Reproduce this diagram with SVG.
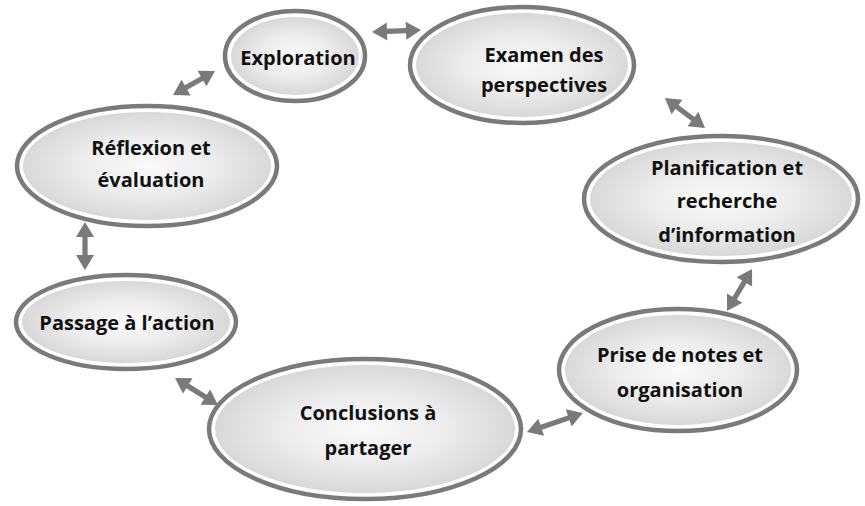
<svg xmlns="http://www.w3.org/2000/svg" width="865" height="506" viewBox="0 0 865 506">
<defs>
<radialGradient id="g" cx="50%" cy="50%" r="50%">
<stop offset="0" stop-color="#fafafa"/>
<stop offset="0.55" stop-color="#ececec"/>
<stop offset="1" stop-color="#d8d8d8"/>
</radialGradient>
</defs>
<style>
.o{fill:#ffffff;stroke:#7a7a7a;stroke-width:4.5}
.i{fill:url(#g);stroke:none}
.t{font-family:"Open Sans","DejaVu Sans",sans-serif;font-weight:bold;font-size:20px;fill:#111;text-anchor:middle}
.a{fill:#7a7a7a}
</style>
<rect width="865" height="506" fill="#ffffff"/>
<g id="connectors">
<path class="a" transform="translate(372,32) rotate(-2.3)" d="M0,0 L15,-9 L15,-2.6 L34,-2.6 L34,-9 L49,0 L34,9 L34,2.6 L15,2.6 L15,9 Z"/>
<path class="a" transform="translate(173,95) rotate(-29.7)" d="M0,0 L15,-9 L15,-2.6 L33.4,-2.6 L33.4,-9 L48.4,0 L33.4,9 L33.4,2.6 L15,2.6 L15,9 Z"/>
<path class="a" transform="translate(85,222) rotate(90)" d="M0,0 L15,-9 L15,-2.6 L33,-2.6 L33,-9 L48,0 L33,9 L33,2.6 L15,2.6 L15,9 Z"/>
<path class="a" transform="translate(175,378) rotate(32.1)" d="M0,0 L15,-9 L15,-2.6 L35.8,-2.6 L35.8,-9 L50.8,0 L35.8,9 L35.8,2.6 L15,2.6 L15,9 Z"/>
<path class="a" transform="translate(527,432) rotate(-18.7)" d="M0,0 L15,-9 L15,-2.6 L44,-2.6 L44,-9 L59,0 L44,9 L44,2.6 L15,2.6 L15,9 Z"/>
<path class="a" transform="translate(727,311) rotate(-59.2)" d="M0,0 L15,-9 L15,-2.6 L33.9,-2.6 L33.9,-9 L48.9,0 L33.9,9 L33.9,2.6 L15,2.6 L15,9 Z"/>
<path class="a" transform="translate(665,98) rotate(36.9)" d="M0,0 L15,-9 L15,-2.6 L35,-2.6 L35,-9 L50,0 L35,9 L35,2.6 L15,2.6 L15,9 Z"/>
</g>
<g id="exploration">
<ellipse class="o" cx="295" cy="56" rx="70" ry="45"/>
<ellipse class="i" cx="295" cy="56" rx="64" ry="39"/>
<text class="t" x="298" y="65">Exploration</text>
</g>
<g id="examen">
<ellipse class="o" cx="522" cy="65" rx="112" ry="58"/>
<ellipse class="i" cx="522" cy="65" rx="106" ry="52"/>
<text class="t" x="544" y="62">Examen des</text>
<text class="t" x="544" y="92">perspectives</text>
</g>
<g id="planification">
<ellipse class="o" cx="721" cy="199" rx="137" ry="63"/>
<ellipse class="i" cx="721" cy="199" rx="131" ry="57"/>
<text class="t" x="727" y="175">Planification et</text>
<text class="t" x="727" y="208">recherche</text>
<text class="t" x="727" y="242">d’information</text>
</g>
<g id="prise">
<ellipse class="o" cx="678" cy="370" rx="119" ry="61"/>
<ellipse class="i" cx="678" cy="370" rx="113" ry="55"/>
<text class="t" x="680" y="362">Prise de notes et</text>
<text class="t" x="680" y="397">organisation</text>
</g>
<g id="conclusions">
<ellipse class="o" cx="365" cy="429" rx="156" ry="70"/>
<ellipse class="i" cx="365" cy="429" rx="150" ry="64"/>
<text class="t" x="368" y="420">Conclusions à</text>
<text class="t" x="368" y="455">partager</text>
</g>
<g id="passage">
<ellipse class="o" cx="126" cy="322" rx="110" ry="47"/>
<ellipse class="i" cx="126" cy="322" rx="104" ry="41"/>
<text class="t" x="127" y="330">Passage à l’action</text>
</g>
<g id="reflexion">
<ellipse class="o" cx="147" cy="166" rx="130" ry="60"/>
<ellipse class="i" cx="147" cy="166" rx="124" ry="54"/>
<text class="t" x="151" y="155">Réflexion et</text>
<text class="t" x="151" y="187">évaluation</text>
</g>
</svg>
